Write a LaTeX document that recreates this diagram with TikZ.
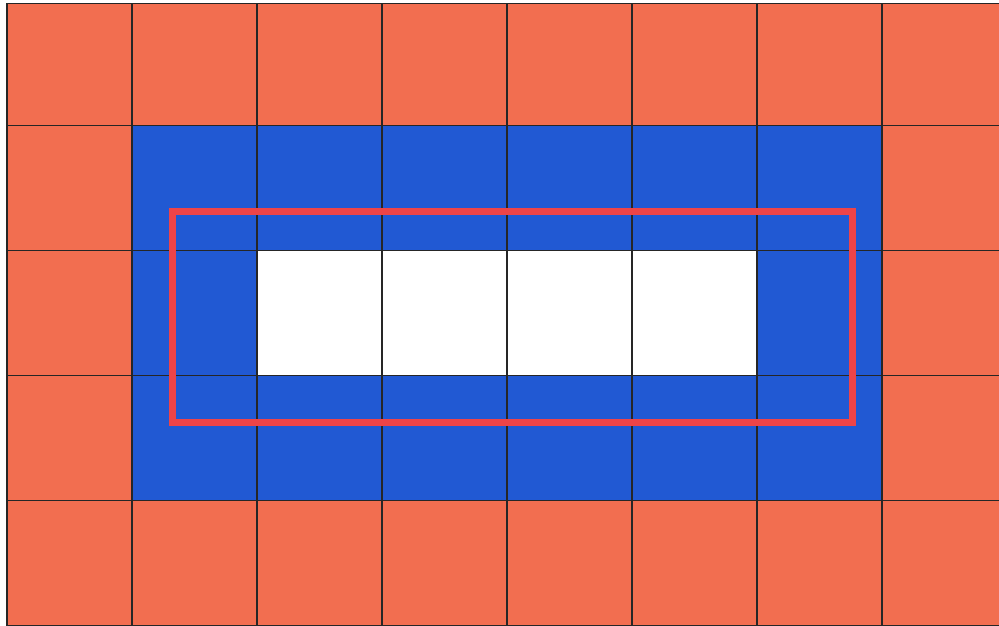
\documentclass[tikz,border=0pt]{standalone}
\usetikzlibrary{positioning}

\definecolor{outercol}{HTML}{F26E50}
\definecolor{innercol}{HTML}{2159D3}
\definecolor{framecol}{HTML}{EE4448}

\begin{document}
\begin{tikzpicture}[
    x=1cm, y=-1cm,
    outer/.style={fill=outercol},
    inner/.style={fill=innercol},
    hole/.style={fill=white},
    gridline/.style={draw=black!85, line width=0.35pt},
    frame/.style={draw=framecol, line width=1.6pt}
]
\useasboundingbox (0,0) rectangle (7.992,5);
\clip (0,0) rectangle (7.992,5);

% Cells - eight columns, five rows
\begin{scope}[shift={(0.056,0.005)}]
\fill[outer] (0,0.023) rectangle (8,5);
\fill[inner] (1,1) rectangle (7,4);
\fill[hole] (2,2) rectangle (6,3);

% Grid
\foreach \x in {0,...,8}
    \draw[gridline] (\x,0.023) -- (\x,5);
\foreach \y in {1,...,5}
    \draw[gridline] (0,\y) -- (8,\y);
\draw[gridline] (0,0.023) -- (8,0.023);
\end{scope}

% Highlight box
\draw[frame] (1.38,1.692) rectangle (6.818,3.38);

\end{tikzpicture}
\end{document}
